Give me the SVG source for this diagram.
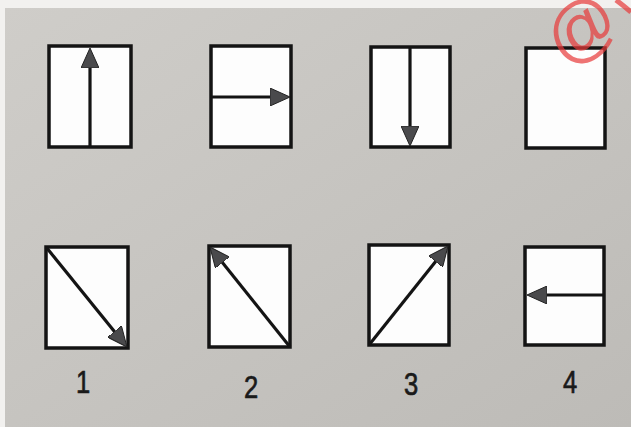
<svg xmlns="http://www.w3.org/2000/svg" width="631" height="427" viewBox="0 0 631 427">
<defs>
<linearGradient id="bg" x1="0" y1="0" x2="1" y2="1">
<stop offset="0" stop-color="#cfcdc9"/>
<stop offset="1" stop-color="#bdbbb7"/>
</linearGradient>
<marker id="ah" viewBox="0 0 20 18" refX="10" refY="9" markerWidth="20" markerHeight="18" markerUnits="userSpaceOnUse" orient="auto">
<path d="M0,0 L20,9 L0,18 Z" fill="#4a4a4c" stroke="#222" stroke-width="1"/>
</marker>
</defs>
<style>
.box{fill:#fdfdfd;stroke:#141414;stroke-width:3.5}
.arr{fill:none;stroke:#141414;stroke-width:3.2;marker-end:url(#ah)}
.lbl{font-family:"Liberation Sans",Arial,sans-serif;font-size:32px;fill:#1a1a1a;stroke:#1a1a1a;stroke-width:0.7;text-anchor:middle}
</style>
<rect x="0" y="0" width="631" height="427" fill="#f2f1ef"/>
<rect x="5" y="8" width="626" height="419" fill="url(#bg)"/>
<g id="top1"><rect class="box" x="49" y="46" width="82" height="101"/></g>
<g id="top2"><rect class="box" x="211" y="46" width="80" height="101"/></g>
<g id="top3"><rect class="box" x="371" y="47" width="79" height="100"/></g>
<g id="top4"><rect class="box" x="526" y="48" width="79" height="100"/></g>
<g id="opt1"><rect class="box" x="46" y="247" width="82" height="101"/><text class="lbl" transform="translate(83,393) scale(0.8,1)">1</text></g>
<g id="opt2"><rect class="box" x="209" y="246" width="81" height="101"/><text class="lbl" transform="translate(251,398) scale(0.8,1)">2</text></g>
<g id="opt3"><rect class="box" x="369" y="245" width="80" height="100"/><text class="lbl" transform="translate(411,395) scale(0.8,1)">3</text></g>
<g id="opt4"><rect class="box" x="525" y="247" width="79" height="98"/><text class="lbl" transform="translate(570,393) scale(0.8,1)">4</text></g>
<g id="connectors">
<path class="arr" d="M90,147 L90,58"/>
<path class="arr" d="M211,97 L280,97"/>
<path class="arr" d="M410,47 L410,136"/>
<path class="arr" d="M46,247 L120.7,339.2"/>
<path class="arr" d="M290,347 L216.2,254.8"/>
<path class="arr" d="M369,345 L441.8,253.8"/>
<path class="arr" d="M604,295 L537,295"/>
</g>
<g id="watermark" opacity="0.7">
<text x="0" y="22" font-family="Liberation Sans,Arial,sans-serif" font-size="70" fill="#e83a3a" text-anchor="middle" transform="translate(582,30) rotate(-35)">@</text>
<path d="M616,0 Q624,6 631,12" fill="none" stroke="#e83a3a" stroke-width="5"/>
</g>
</svg>
